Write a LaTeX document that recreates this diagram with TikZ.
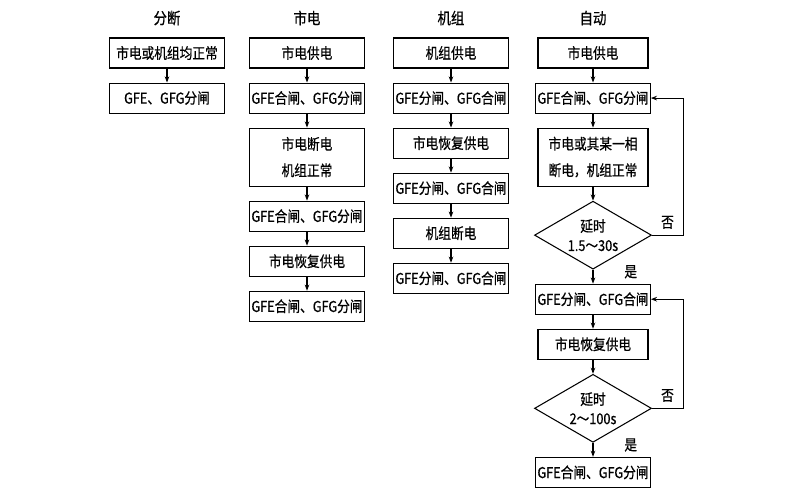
\documentclass[tikz,border=0pt]{standalone}
\usepackage{fontspec}
\setmainfont[FakeStretch=0.85,FakeBold=0.6]{Noto Sans CJK SC}
\usepackage{tikz}
\usetikzlibrary{arrows.meta,shapes.geometric,positioning}

\begin{document}
\begin{tikzpicture}[
  font=\fontsize{8.5}{11}\selectfont,
  node distance=0.28cm,
  box/.style={draw, line width=0.6pt, minimum width=2.3cm, minimum height=0.6cm, inner xsep=1pt, align=center},
  tall/.style={box, minimum height=1.16cm, font=\fontsize{8.5}{15}\selectfont},
  test/.style={draw, line width=0.6pt, diamond, aspect=1.7, inner sep=0pt, minimum width=2.34cm, minimum height=1.36cm, align=center},
  head/.style={inner sep=1pt, font=\fontsize{9}{11}\selectfont},
  arr/.style={line width=0.6pt, -{Stealth[length=3.5pt,width=2.6pt]}}
]
\useasboundingbox (0,0) rectangle (16,-10);

\node[box] (a1) at (3.34,-1.06) {市电或机组均正常};
\node[box, below=of a1] (a2) {GFE、GFG分闸};
\node[head, above=0.2cm of a1] (t1) {分断};

\node[box] (b1) at (6.14,-1.06) {市电供电};
\node[box, below=of b1] (b2) {GFE合闸、GFG分闸};
\node[tall, below=of b2] (b3) {市电断电\\机组正常};
\node[box, below=of b3] (b4) {GFE合闸、GFG分闸};
\node[box, below=of b4] (b5) {市电恢复供电};
\node[box, below=of b5] (b6) {GFE合闸、GFG分闸};
\node[head, above=0.2cm of b1] (t2) {市电};

\node[box] (c1) at (9.02,-1.06) {机组供电};
\node[box, below=of c1] (c2) {GFE分闸、GFG合闸};
\node[box, below=of c2] (c3) {市电恢复供电};
\node[box, below=of c3] (c4) {GFE分闸、GFG合闸};
\node[box, below=of c4] (c5) {机组断电};
\node[box, below=of c5] (c6) {GFE分闸、GFG合闸};
\node[head, above=0.2cm of c1] (t3) {机组};

\begin{scope}[box/.append style={minimum width=2.2cm}]
\node[box] (d1) at (11.86,-1.06) {市电供电};
\node[box, below=of d1] (d2) {GFE合闸、GFG分闸};
\node[tall, below=of d2] (d3) {市电或其某一相\\断电，机组正常};
\node[test, below=of d3] (q1) {延时\\1.5～30s};
\node[box, below=of q1] (d4) {GFE分闸、GFG合闸};
\node[box, below=of d4] (d5) {市电恢复供电};
\node[test, below=of d5] (q2) {延时\\2～100s};
\node[box, below=of q2] (d6) {GFE合闸、GFG分闸};
\end{scope}
\node[head, above=0.2cm of d1] (t4) {自动};

\draw[arr] (a1) -- (a2);
\foreach \u/\v in {b1/b2,b2/b3,b3/b4,b4/b5,b5/b6,c1/c2,c2/c3,c3/c4,c4/c5,c5/c6,d1/d2,d2/d3,d3/q1,d4/d5,d5/q2}
  \draw[arr] (\u) -- (\v);
\draw[arr] (q1) -- node[pos=0.15, right=0.5cm] {是} (d4);
\draw[arr] (q2) -- node[pos=0.15, right=0.5cm] {是} (d6);
\draw[arr] (q1.east) -- node[above] {否} ++(0.62,0) |- (d2.east);
\draw[arr] (q2.east) -- node[above] {否} ++(0.62,0) |- (d4.east);
\end{tikzpicture}
\end{document}
